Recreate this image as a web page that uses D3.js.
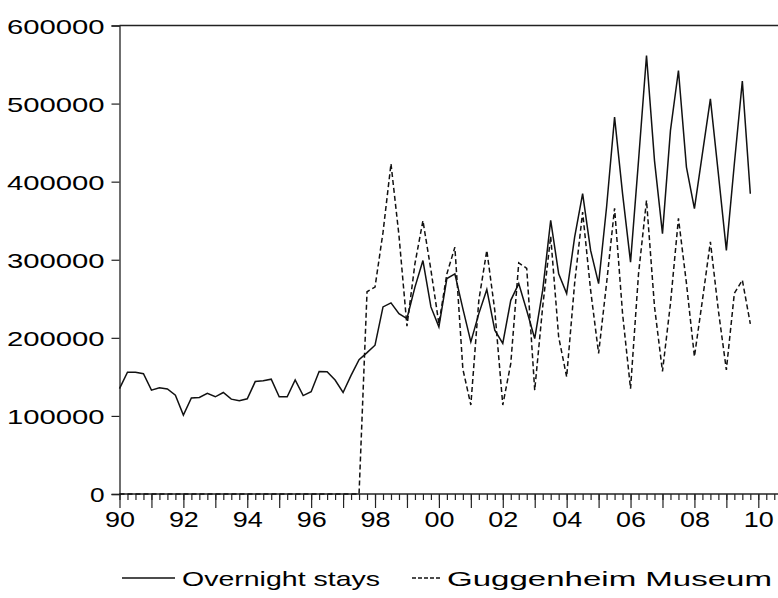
<!DOCTYPE html>
<html>
<head>
<meta charset="utf-8">
<script src="https://cdn.jsdelivr.net/npm/d3@7"></script>
<style>
  body { margin: 0; background: #fff; }
  text { font-family: "Liberation Sans", Arial, sans-serif; fill: #000; }
</style>
</head>
<body>
<div id="chart"></div>
<script>
// quarterly, 1990Q1 .. 2009Q4
var startYear = 1990;
var overnight = [
  135000, 156000, 156000, 154000,
  133000, 136000, 134500, 126600,
  101000, 123000, 123700, 128800,
  124500, 130000, 121500, 119400,
  122000, 144000, 145000, 147000,
  124500, 124500, 146000, 126000,
  131000, 157000, 156500, 146000,
  130000, 152000, 172000, 181000,
  190600, 239600, 244800, 231000,
  224700, 265000, 299000, 239600,
  214000, 276000, 282000, 237500,
  194800, 231000, 262000, 209800,
  192800, 248000, 269500, 235000,
  199000, 261000, 350500, 282000,
  256700, 329000, 384600, 312000,
  269500, 367500, 482700, 384600,
  297000, 427000, 561600, 427000,
  333500, 465700, 542400, 418700,
  365500, 435800, 506000, 410000,
  312000, 423000, 528800, 384600
];
var guggenheim = [
  0, 0, 0, 0,
  0, 0, 0, 0,
  0, 0, 0, 0,
  0, 0, 0, 0,
  0, 0, 0, 0,
  0, 0, 0, 0,
  0, 0, 0, 0,
  0, 0, 0, 259000,
  265000, 335000, 423000, 331000,
  215000, 295000, 350000, 287000,
  218000, 282000, 316000, 160000,
  114000, 248000, 312000, 235000,
  114000, 167000, 296000, 289000,
  133000, 240000, 330000, 201000,
  150000, 270000, 361000, 261000,
  180000, 270000, 366000, 231000,
  135000, 282000, 376000, 240000,
  157000, 244000, 353000, 270000,
  176000, 248000, 323000, 235000,
  159000, 257000, 274000, 218000
];
var yTicks = [0, 100000, 200000, 300000, 400000, 500000, 600000];
var seriesNames = ["Overnight stays", "Guggenheim Museum"];

var W = 778, H = 598;
var plotLeft = 119.5, plotTop = 25.5, plotBottom = 494;
var xEnd = 2010.75;

var svg = d3.select("#chart").append("svg")
  .attr("width", W)
  .attr("height", H);

var x = d3.scaleLinear().domain([startYear, xEnd]).range([plotLeft, plotLeft + (xEnd - startYear) * 31.94]);
var y = d3.scaleLinear().domain([0, 600000]).range([plotBottom, plotTop]);

function toPoints(arr) {
  return arr.map((v, i) => ({ t: startYear + i / 4, v: v }));
}

// frame top
svg.append("line")
  .attr("x1", plotLeft).attr("x2", W + 10)
  .attr("y1", plotTop).attr("y2", plotTop)
  .attr("stroke", "#222").attr("stroke-width", 1.3);

// y axis
var yAxis = d3.axisLeft(y).tickValues(yTicks).tickSize(8).tickFormat(d3.format("d"));
var gy = svg.append("g").attr("transform", `translate(${plotLeft},0)`).call(yAxis);
gy.select(".domain").attr("stroke", "#222").attr("stroke-width", 1.3);
gy.selectAll(".tick line").attr("stroke", "#222").attr("stroke-width", 1.2);
gy.selectAll(".tick text")
  .attr("x", -15)
  .attr("dy", "0.36em")
  .style("font-size", "21px")
  .attr("textLength", (d) => String(d).length * 16.6 - 2)
  .attr("lengthAdjust", "spacingAndGlyphs");

// x axis: quarter ticks + year ticks
var quarters = d3.range(startYear * 4, xEnd * 4 + 1).map((q) => q / 4);
var years = d3.range(startYear, Math.floor(xEnd) + 1);

var gq = svg.append("g").attr("transform", `translate(0,${plotBottom})`)
  .call(d3.axisBottom(x).tickValues(quarters).tickSize(6).tickFormat(""));
gq.select(".domain").remove();
gq.selectAll(".tick line").attr("stroke", "#222").attr("stroke-width", 1.2);

var gx = svg.append("g").attr("transform", `translate(0,${plotBottom})`)
  .call(d3.axisBottom(x).tickValues(years).tickSize(14)
    .tickFormat((d) => (d % 2 === 0 ? String(d % 100).padStart(2, "0") : "")));
gx.select(".domain").remove();
svg.append("line")
  .attr("x1", plotLeft).attr("x2", W + 10)
  .attr("y1", plotBottom).attr("y2", plotBottom)
  .attr("stroke", "#222").attr("stroke-width", 1.3);
gx.selectAll(".tick line").attr("stroke", "#222").attr("stroke-width", 1.2);
gx.selectAll(".tick text")
  .attr("y", 25)
  .attr("dy", "0.36em")
  .style("font-size", "22px")
  .attr("textLength", 30)
  .attr("lengthAdjust", "spacingAndGlyphs");

// series
var line = d3.line().x((d) => x(d.t)).y((d) => y(d.v));

svg.append("path")
  .datum(toPoints(guggenheim))
  .attr("d", line)
  .attr("fill", "none")
  .attr("stroke", "#111")
  .attr("stroke-width", 1.5)
  .attr("stroke-dasharray", "5,3");

svg.append("path")
  .datum(toPoints(overnight))
  .attr("d", line)
  .attr("fill", "none")
  .attr("stroke", "#111")
  .attr("stroke-width", 1.5);

// legend
var ly = 578;
var leg = svg.append("g");
leg.append("line")
  .attr("x1", 122).attr("x2", 175).attr("y1", ly).attr("y2", ly)
  .attr("stroke", "#111").attr("stroke-width", 1.3);
leg.append("text")
  .attr("x", 182).attr("y", ly).attr("dy", "0.36em")
  .style("font-size", "21px")
  .attr("textLength", 198).attr("lengthAdjust", "spacingAndGlyphs")
  .text(seriesNames[0]);
leg.append("line")
  .attr("x1", 412).attr("x2", 440).attr("y1", ly).attr("y2", ly)
  .attr("stroke", "#111").attr("stroke-width", 1.3)
  .attr("stroke-dasharray", "4,2");
leg.append("text")
  .attr("x", 447).attr("y", ly).attr("dy", "0.36em")
  .style("font-size", "21px")
  .attr("textLength", 325).attr("lengthAdjust", "spacingAndGlyphs")
  .text(seriesNames[1]);
</script>
</body>
</html>
